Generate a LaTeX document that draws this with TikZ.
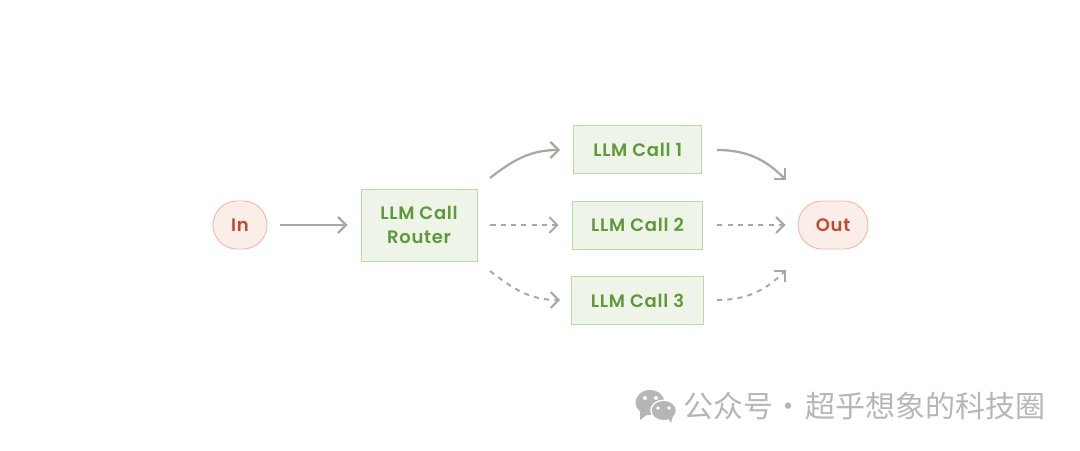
\documentclass[tikz,border=0pt]{standalone}
\usepackage{fontspec}
\setmainfont{Poppins}[BoldFont={Poppins SemiBold},LetterSpace=4]
\newfontfamily\cjk{Noto Sans CJK SC}
\usetikzlibrary{arrows.meta}
\definecolor{arrowgray}{HTML}{A9A9A2}
\definecolor{markgray}{HTML}{B6B6B6}
\definecolor{callfill}{HTML}{EEF4E8}
\definecolor{calldraw}{HTML}{B7DDA4}
\definecolor{calltext}{HTML}{5E9A38}
\definecolor{endfill}{HTML}{FBEEE9}
\definecolor{enddraw}{HTML}{F3BBA7}
\definecolor{endtext}{HTML}{C04A2C}
\tikzset{
  callbox/.style={draw=calldraw,fill=callfill,text=calltext,line width=0.7pt,
    font=\fontsize{13.5}{18}\selectfont\bfseries,align=center,inner sep=0pt},
  endbox/.style={draw=enddraw,fill=endfill,text=endtext,line width=0.7pt,
    rounded corners=18pt,minimum height=36pt,
    font=\fontsize{13.5}{18}\selectfont\bfseries,inner sep=0pt},
  flow/.style={draw=arrowgray,line width=1.7pt,-{Straight Barb[length=6pt,width=12pt]}},
  dashflow/.style={flow,line width=1.5pt,dash pattern=on 3.8pt off 3.9pt},
}
\begin{document}
\begin{tikzpicture}[x=0.75pt,y=-0.75pt]
  \useasboundingbox (0,0) rectangle (1080,450);
  \node[endbox,minimum width=40.5pt] (in) at (240,225) {In};
  \node[callbox,minimum width=87pt,minimum height=54pt] (router) at (419,225) {LLM Call\\Router};
  \node[callbox,minimum width=96pt,minimum height=36.5pt] (call1) at (637.7,149.5) {LLM Call 1};
  \node[callbox,minimum width=98pt,minimum height=36pt] (call2) at (637.5,225) {LLM Call 2};
  \node[callbox,minimum width=99pt,minimum height=36.5pt] (call3) at (637.5,300.5) {LLM Call 3};
  \node[endbox,minimum width=52.5pt] (out) at (833,225) {Out};
  % free ends of the curved arrows
  \coordinate (routertop) at (490,178);
  \coordinate (routerbot) at (490,271);
  \coordinate (call1end) at (560,150);
  \coordinate (call3end) at (560,300);
  \coordinate (call1start) at (717,150);
  \coordinate (call3start) at (717,300);
  \coordinate (outtop) at (786,180);
  \coordinate (outbot) at (786,270);
  \begin{scope}[flow]
    \draw[shorten <=13pt*0.75,shorten >=13pt*0.75] (in) to (router);
    \draw (routertop) to[out=38,in=180] (call1end);
    \draw (call1start) to[out=0,in=135] (outtop);
  \end{scope}
  \begin{scope}[dashflow]
    \draw[shorten <=9.75pt,shorten >=9.75pt] (router) to (call2);
    \draw[shorten <=10.5pt,shorten >=9pt] (call2) to (out);
    \draw (routerbot) to[out=-38,in=180] (call3end);
    \draw (call3start) to[out=0,in=-135] (outbot);
  \end{scope}
  % watermark
  \fill[markgray] (650,402.5) ellipse (14.5 and 12.5);
  \fill[markgray] (640,412) -- (640,420) -- (648,414) -- cycle;
  \fill[white] (663.7,410.5) ellipse (13.5 and 11);
  \fill[markgray] (663.7,410.5) ellipse (12 and 9.5);
  \fill[markgray] (668,418) -- (671,423) -- (673,415) -- cycle;
  \fill[white] (645,398) circle (2) (656,398) circle (2);
  \fill[white] (658,408) circle (1.8) (669,408) circle (1.8);
  \node[text=markgray,font=\cjk\fontsize{22.5}{24}\selectfont,anchor=west,inner sep=0pt] (mark) at (683.5,406) {公众号 \kern-5pt· \kern-4pt超乎想象的科技圈};
\end{tikzpicture}
\end{document}
